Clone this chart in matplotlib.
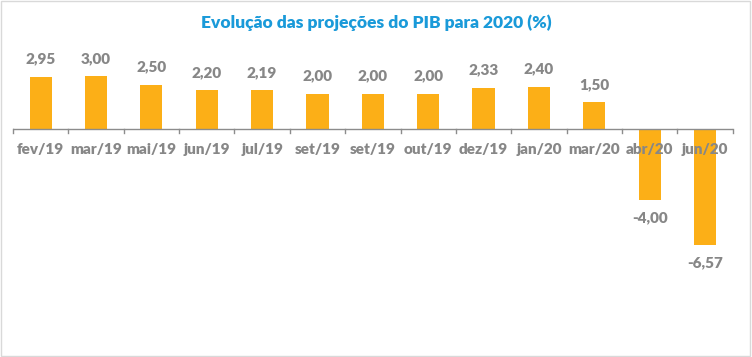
import matplotlib.pyplot as plt
import numpy as np
from matplotlib.patches import Rectangle

# dados do gráfico
meses = ["fev/19", "mar/19", "mai/19", "jun/19", "jul/19", "set/19", "set/19",
         "out/19", "dez/19", "jan/20", "mar/20", "abr/20", "jun/20"]
pib = [2.95, 3.00, 2.50, 2.20, 2.19, 2.00, 2.00, 2.00, 2.33, 2.40, 1.50, -4.00, -6.57]

cor_barra = "#FCAF17"
cor_texto = "#878787"
cor_titulo = "#1A9AD9"

plt.rcParams["font.family"] = ["Lato", "DejaVu Sans"]

fig = plt.figure(figsize=(7.52, 3.57), dpi=100)
ax = fig.add_axes([0.0173, 0.242, 0.957, 0.595])

x = np.arange(len(meses))
ax.bar(x, pib, width=0.4, color=cor_barra, zorder=2)

# rótulos de valores
for xi, v in zip(x, pib):
    txt = f"{v:.2f}".replace(".", ",")
    if v >= 0:
        ax.annotate(txt, (xi, v), xytext=(0, 8), textcoords="offset points",
                    ha="center", va="bottom", color=cor_texto, fontsize=11,
                    fontweight="heavy")
    else:
        ax.annotate(txt, (xi, v), xytext=(0, -8), textcoords="offset points",
                    ha="center", va="top", color=cor_texto, fontsize=11,
                    fontweight="heavy")

ax.set_xlim(-0.5, len(meses) - 0.5)
ax.set_ylim(-8, 4)

for s in ["top", "right", "left", "bottom"]:
    ax.spines[s].set_visible(False)
ax.axhline(0, color="#8C8C8C", lw=1, zorder=3)
ax.set_yticks([])
ax.set_xticks([])

# marcas entre categorias
for b in np.arange(-0.5, len(meses)):
    ax.plot([b, b], [0, -0.25], color="#8C8C8C", lw=1, zorder=3, clip_on=False)

for xi, m in zip(x, meses):
    ax.annotate(m, (xi, 0), xytext=(0, -15), textcoords="offset points",
                ha="center", va="center", color=cor_texto, fontsize=11,
                fontweight="heavy", zorder=4)

fig.text(0.5, 0.935, "Evolução das projeções do PIB para 2020 (%)",
         ha="center", va="center", color=cor_titulo, fontsize=12.5,
         fontweight="heavy")

fig.patches.append(Rectangle((0.001, 0.002), 0.997, 0.995, transform=fig.transFigure,
                             fill=False, edgecolor="#D9D9D9", lw=1))

fig.savefig("out.png", dpi=100)
